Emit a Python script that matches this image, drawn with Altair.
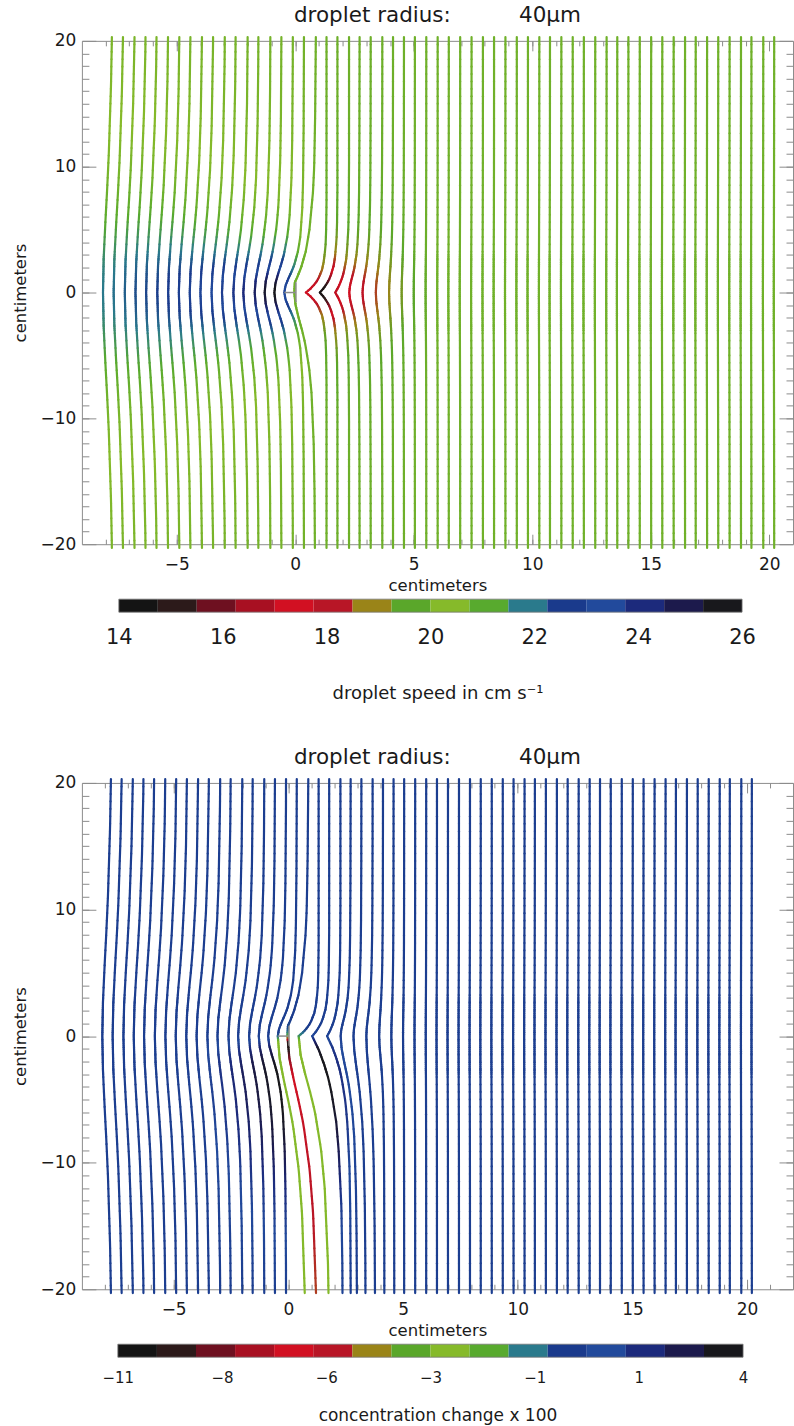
import altair as alt
import numpy as np
import pandas as pd

FONT = "DejaVu Sans"
GRAY = "#8c8c8c"
INK = "#1a1a1a"

# ---------------- data ----------------
# x (cm) of each droplet trajectory where it enters at the top edge (y = +20 cm)
X_START = [-7.62, -7.16, -6.68, -6.22, -5.76, -5.28, -4.81, -4.35, -3.87, -3.41,
           -2.92, -2.47, -1.97, -1.52, -1.02, -0.56, -0.08, 0.38, 0.87, 1.32,
           1.78, 2.27, 2.72, 3.19, 3.68, 4.13, 4.59, 5.05, 5.53, 6.01,
           6.48, 6.96, 7.44, 7.92, 8.39, 8.87, 9.35, 9.82, 10.30, 10.75,
           11.23, 11.71, 12.18, 12.66, 13.14, 13.59, 14.06, 14.54, 15.02, 15.49,
           15.97, 16.45, 16.90, 17.38, 17.85, 18.33, 18.81, 19.25, 19.75, 20.21]
# sideways shift of each trajectory at y = 0 (cm)
SHIFT_MID = [-0.49, -0.50, -0.51, -0.52, -0.53, -0.54, -0.55, -0.56, -0.58, -0.59,
             -0.61, -0.62, -0.64, -0.67, -0.69, -0.73, -0.80, -0.84, -0.91, -0.87,
             -0.74, -0.58, -0.44, -0.35, -0.28, -0.17, -0.10, -0.05, -0.03, -0.02,
             -0.02, -0.02, -0.02, -0.02, -0.02, -0.02, -0.02, -0.02, -0.02, -0.02,
             -0.02, -0.02, -0.02, -0.02, -0.02, -0.02, -0.02, -0.02, -0.02, -0.02,
             -0.02, -0.02, -0.02, -0.02, -0.02, -0.02, -0.02, -0.02, -0.02, -0.02]
# vertical extent (cm) of the bend above the collector and its shape
W_UP = [11, 10.5, 10, 9.5, 9, 8.5, 8, 7.5, 7, 6.5, 6, 5.5, 5, 4.5, 4, 3.5, 3, 2.2,
        2.5, 1.2, 1.4, 1.7, 2.0, 2.3, 2.6, 2.9, 3.2, 3.5, 3.8, 4.1, 4.4, 4.7,
        5.0, 5.3, 5.6, 5.9, 6.2, 6.5, 6.8, 7.1, 7.4, 7.7, 8.0, 8.3, 8.6, 8.9, 9.2,
        9.5, 9.8, 10, 10, 10, 10, 10, 10, 10, 10, 10, 10, 10]
SHAPE_UP = "R" * 18 + "K" * 4 + "R" * 38      # R: rounded bend, K: kinked bend
# the trajectory that comes down onto the top of the collector: (y, x) read off
UP_OVERRIDE = {18: ([20.3, 14, 10, 8, 5, 3.3, 2.0, 1.2, 0.8, 0.0],
                    [0.87, 0.84, 0.80, 0.75, 0.60, 0.45, 0.25, 0.08, -0.02, -0.04])}

# below the collector: top panel trajectories return to where they started
TOP_SHIFT_END = [0.0] * 60
TOP_W_DOWN = W_UP[:18] + [4.0] + W_UP[19:]
TOP_SHAPE_DOWN = "R" * 19 + "K" * 3 + "R" * 38
# bottom panel trajectories drift to the right in the wake of the collector
BOT_SHIFT_END = [0.0] * 17 + [0.48, 0.49, 0.55, 0.60, 0.45, 0.30, 0.20, 0.12, 0.06,
                              0.03] + [0.0] * 33
BOT_W_DOWN = W_UP[:17] + [7.0, 7.0, 6.0, 4.5, 3.5, 4.0, 4.5, 5.0] + W_UP[25:]
BOT_SHAPE_DOWN = "R" * 20 + "KK" + "R" * 38

# bend profiles: fraction of the way back to the far-field x, vs |y| / width
PROF_T = [0, 0.25, 0.5, 0.75, 1, 1.5, 2, 3, 4, 6, 10, 100]
PROF_ROUND = [0, 0.06, 0.2, 0.36, 0.5, 0.69, 0.8, 0.9, 0.94, 0.97, 0.99, 1.0]
PROF_KINK = [0, 0.22, 0.39, 0.53, 0.63, 0.78, 0.86, 0.95, 0.98, 1.0, 1.0, 1.0]
PROF_FADE = [1, 0.94, 0.8, 0.64, 0.5, 0.31, 0.2, 0.1, 0.06, 0.03, 0.01, 0.0]

# top panel: droplet speed (cm/s), far away and next to the collector
SPEED_FAR = 20.0
SPEED_MID = [21.9, 22.0, 22.2, 22.4, 22.5, 22.6, 22.8, 22.9, 23.0, 23.2,
             23.4, 23.7, 23.9, 24.2, 24.6, 25.4, 25.8, 23.5,
             20.0, 17.5, 14.5, 17.0, 17.4, 17.9, 18.4, 18.9, 19.3, 19.6, 19.8, 20.0,
             20.0, 20.0] + [20.0] * 28
SPEED_W = [6.5, 6.3, 6.0, 5.7, 5.4, 5.1, 4.8, 4.5, 4.2, 3.9, 3.6, 3.3, 3.0, 2.8,
           2.6, 2.4, 2.2, 2.0,
           1.5, 1.8, 1.6, 1.9, 2.2, 2.5, 2.8, 3.1, 3.4, 3.7, 4.0, 4.0, 4.0, 4.0] + [4.0] * 28

# bottom panel: concentration change x 100 along selected trajectories
CONC_FAR = 0.0
CONC_Y = [20.3, 2, 0.5, 0, -0.5, -1, -2, -3, -5, -8, -12, -16, -20.3]
CONC_ROWS = {
    10: [0.0, 0.0, 0.0, 0.0, 0.3, 0.6, 0.9, 1.0, 1.0, 0.8, 0.4, 0.1, 0.0],
    11: [0.0, 0.0, 0.0, 0.0, 0.4, 0.8, 1.3, 1.4, 1.4, 1.1, 0.6, 0.2, 0.0],
    12: [0.0, 0.0, 0.0, 0.0, 0.5, 1.0, 1.6, 1.8, 1.8, 1.5, 0.8, 0.3, 0.0],
    13: [0.0, 0.0, 0.0, 0.0, 0.7, 1.3, 2.0, 2.3, 2.3, 1.9, 1.1, 0.4, 0.0],
    14: [0.0, 0.0, 0.0, 0.0, 0.8, 1.6, 2.5, 2.8, 2.8, 2.3, 1.3, 0.5, 0.0],
    15: [0.0, 0.0, 0.0, 0.0, 1.0, 2.0, 3.0, 3.3, 3.3, 2.8, 1.5, 0.6, 0.0],
    16: [0.0, 0.0, 0.0, 0.0, 1.1, 2.2, 3.3, 3.7, 3.7, 3.1, 1.7, 0.7, 0.0],
    17: [0.0, 0.0, 0.0, -0.5, -3.0, -3.0, -3.0, -3.0, -3.0, -3.0, -3.0, -3.0, -3.0],
    18: [0.0, 0.0, -0.5, -2.0, -9.5, -10.0, -8.0, -7.0, -6.5, -6.2, -6.0, -5.8, -5.5],
    19: [0.0, 0.0, -0.3, -1.5, -3.0, -3.0, -3.0, -3.0, -3.0, -3.0, -3.0, -3.0, -3.0],
    20: [0.0, 0.0, 0.0, 0.6, 2.0, 3.2, 3.6, 3.6, 3.4, 2.8, 1.5, 0.6, 0.2],
    21: [0.0, 0.0, 0.0, 0.3, 0.9, 1.3, 1.5, 1.5, 1.4, 1.1, 0.6, 0.3, 0.0],
    22: [0.0, 0.0, 0.0, 0.1, 0.4, 0.7, 0.8, 0.8, 0.7, 0.5, 0.3, 0.1, 0.0],
}

# the collector drop marker (cm)
COLLECTOR = {"x": [-0.46, 0.03], "y": [0.0, 0.82], "x2": [0.03, 0.03], "y2": [0.0, -0.77]}

# colour bar: 16 colours
COLORS = ["#141414", "#2c1a1a", "#6e1020", "#a81022", "#d21022", "#b81626",
          "#9a8418", "#5aa72a", "#86ba2a", "#58aa2e", "#2a7a8c", "#1a3a8c",
          "#224a9c", "#1c2a7c", "#1c1a4c", "#18181c"]
TOP_CB_RANGE = [14, 26]
TOP_CB_LABELS = [14, 16, 18, 20, 22, 24, 26]
BOT_CB_RANGE = [-11, 4]
BOT_CB_LABELS = [-11, -8.5, -6, -3.5, -1, 1.5, 4]

X_MAJOR = [-5, 0, 5, 10, 15, 20]
Y_MAJOR = [-20, -10, 0, 10, 20]
TITLE = "droplet radius:" + "\u00a0" * 10 + "40\u03bcm"

# ---------------- build trajectories ----------------
Y_SAMPLES = np.unique(np.round(np.concatenate(
    [np.linspace(-20.3, 20.3, 70), np.linspace(-3.0, 3.0, 41)]), 3))[::-1]


def prof(kind, t):
    return np.interp(t, PROF_T, PROF_ROUND if kind == "R" else PROF_KINK)


def trajectory(i, shift_end, w_down, shape_down):
    x0 = X_START[i]
    xm = x0 + SHIFT_MID[i]
    xe = x0 + shift_end[i]
    pts = []
    for y in Y_SAMPLES:
        if y >= 0:
            if i in UP_OVERRIDE:
                yy, xx = UP_OVERRIDE[i]
                x = float(np.interp(y, yy[::-1], xx[::-1]))
            else:
                x = xm + (x0 - xm) * prof(SHAPE_UP[i], y / W_UP[i])
        else:
            x = xm + (xe - xm) * prof(shape_down[i], -y / w_down[i])
        pts.append((x, y))
    return pts


def speed(i, y):
    return SPEED_FAR + (SPEED_MID[i] - SPEED_FAR) * np.interp(abs(y) / SPEED_W[i], PROF_T, PROF_FADE)


def conc(i, y):
    if i in CONC_ROWS:
        return float(np.interp(y, CONC_Y[::-1], CONC_ROWS[i][::-1]))
    return CONC_FAR


def segments(value_fn, shift_end, w_down, shape_down):
    rows = []
    for i in range(len(X_START)):
        pts = trajectory(i, shift_end, w_down, shape_down)
        for (xa, ya), (xb, yb) in zip(pts[:-1], pts[1:]):
            rows.append((round(xa, 3), round(ya, 3), round(xb, 3), round(yb, 3),
                         round(float(value_fn(i, 0.5 * (ya + yb))), 3)))
    return pd.DataFrame(rows, columns=["x", "y", "x2", "y2", "v"])


def bin_table(rng):
    edges = np.linspace(rng[0], rng[1], len(COLORS) + 1)
    return pd.DataFrame({"lo": edges[:-1], "hi": edges[1:], "c": COLORS,
                         "mid": 0.5 * (edges[:-1] + edges[1:])})


PANEL_W = 712


def panel(seg, rng, xdom, height):
    bins = bin_table(rng)
    cscale = alt.Scale(domain=[float(m) for m in bins["mid"]], range=COLORS, clamp=True,
                       interpolate="rgb")
    xs = alt.Scale(domain=xdom, nice=False, zero=False)
    ys = alt.Scale(domain=[-20, 20], nice=False, zero=False)
    minor_x = list(range(xdom[0] + 1, xdom[1]))
    minor_y = list(range(-19, 20))
    lines = alt.Chart(seg).mark_rule(strokeWidth=2.2, strokeCap="round").encode(
        x=alt.X("x:Q", scale=xs, axis=alt.Axis(
            orient="bottom", values=X_MAJOR, tickSize=10, offset=-10, domain=False,
            grid=False, labelPadding=12, format="d", title="centimeters", titlePadding=5)),
        x2="x2:Q",
        y=alt.Y("y:Q", scale=ys, axis=alt.Axis(
            orient="left", values=Y_MAJOR, tickSize=14, offset=-14, domain=False,
            grid=False, labelPadding=6, format="d", title="centimeters", titlePadding=12)),
        y2="y2:Q",
        color=alt.Color("v:Q", scale=cscale, legend=None),
    )
    coll = alt.Chart(pd.DataFrame(COLLECTOR)).mark_rule(color=GRAY, strokeWidth=1.5).encode(
        x=alt.X("x:Q", scale=xs, axis=None), x2="x2:Q",
        y=alt.Y("y:Q", scale=ys, axis=None), y2="y2:Q")
    dummy = pd.DataFrame({"x": [0.0], "y": [0.0]})

    def ax_layer(xo, yo, xv, yv, xsz, ysz):
        return alt.Chart(dummy).mark_point(opacity=0).encode(
            x=alt.X("x:Q", scale=xs, axis=alt.Axis(
                orient=xo, values=xv, tickSize=xsz, offset=-xsz, labels=False,
                domain=False, grid=False, title=None)),
            y=alt.Y("y:Q", scale=ys, axis=alt.Axis(
                orient=yo, values=yv, tickSize=ysz, offset=-ysz, labels=False,
                domain=False, grid=False, title=None)))

    return alt.layer(
        lines, coll,
        ax_layer("bottom", "left", minor_x, minor_y, 5, 7),
        ax_layer("top", "right", X_MAJOR, Y_MAJOR, 10, 14),
        ax_layer("top", "right", minor_x, minor_y, 5, 7),
    ).resolve_axis(x="independent", y="independent").properties(
        width=PANEL_W, height=height,
        title=alt.Title(TITLE, fontSize=21.5, font=FONT, fontWeight="normal", color=INK,
                        offset=5, anchor="middle"),
        view=alt.ViewBackground(stroke=GRAY, strokeWidth=1),
    )


def colorbar(rng, px_left, px_right, label_vals, label_size, label_pad, title,
             title_size, title_pad, label_expr=None):
    bins = bin_table(rng)
    per_px = (rng[1] - rng[0]) / (px_right - px_left)
    dom = [rng[0] - px_left * per_px, rng[1] + (PANEL_W - px_right) * per_px]
    axis_kw = dict(orient="bottom", values=label_vals, tickSize=0, domain=False, grid=False,
                   labelFontSize=label_size, labelPadding=label_pad, labelFlush=False,
                   title=title, titleFontSize=title_size, titlePadding=title_pad)
    if label_expr:
        axis_kw["labelExpr"] = label_expr
    else:
        axis_kw["format"] = "d"
    xs = alt.Scale(domain=dom, nice=False, zero=False)
    bar = alt.Chart(bins).mark_rect().encode(
        x=alt.X("lo:Q", scale=xs, axis=alt.Axis(**axis_kw)), x2="hi:Q",
        y=alt.value(0), y2=alt.value(13),
        color=alt.Color("c:N", scale=None, legend=None))
    frame = alt.Chart(pd.DataFrame({"lo": [rng[0]], "hi": [rng[1]]})).mark_rect(
        fillOpacity=0, stroke="#777777", strokeWidth=0.8).encode(
        x=alt.X("lo:Q", scale=xs, axis=None), x2="hi:Q", y=alt.value(0), y2=alt.value(13))
    return alt.layer(bar, frame).resolve_axis(x="independent").properties(
        width=PANEL_W, height=13, view=alt.ViewBackground(stroke="transparent"))


top = panel(segments(speed, TOP_SHIFT_END, TOP_W_DOWN, TOP_SHAPE_DOWN),
            TOP_CB_RANGE, [-9, 21], 504)
bot = panel(segments(conc, BOT_SHIFT_END, BOT_W_DOWN, BOT_SHAPE_DOWN),
            BOT_CB_RANGE, [-9, 22], 507)
cb_top = colorbar(TOP_CB_RANGE, 37, 661, TOP_CB_LABELS, 21, 14,
                  "droplet speed in cm s\u207b\u00b9", 18, 37)
cb_bot = colorbar(BOT_CB_RANGE, 36, 662, BOT_CB_LABELS, 15, 13,
                  "concentration change x 100", 17, 22,
                  label_expr="datum.value < 0 ? '\u2212' + floor(-datum.value) : '' + floor(datum.value)")
spacer = alt.Chart(pd.DataFrame({"a": [0]})).mark_point(opacity=0).encode(
    x=alt.value(0), y=alt.value(0)).properties(
    width=PANEL_W, height=61, view=alt.ViewBackground(stroke="transparent"))

chart = alt.vconcat(top, cb_top, spacer, bot, cb_bot, spacing=55, bounds="flush").resolve_scale(
    color="independent", x="independent", y="independent"
).properties(
    padding={"left": 11, "top": 4, "right": 0, "bottom": 0}
).configure_view(stroke="transparent").configure_axis(
    labelFont=FONT, titleFont=FONT, labelColor=INK, titleColor=INK, tickColor=GRAY,
    tickWidth=1, titleFontWeight="normal", labelFontSize=17, titleFontSize=16.5
).configure_title(font=FONT)

chart.save("out.html", embed_options={"renderer": "svg", "actions": False})
